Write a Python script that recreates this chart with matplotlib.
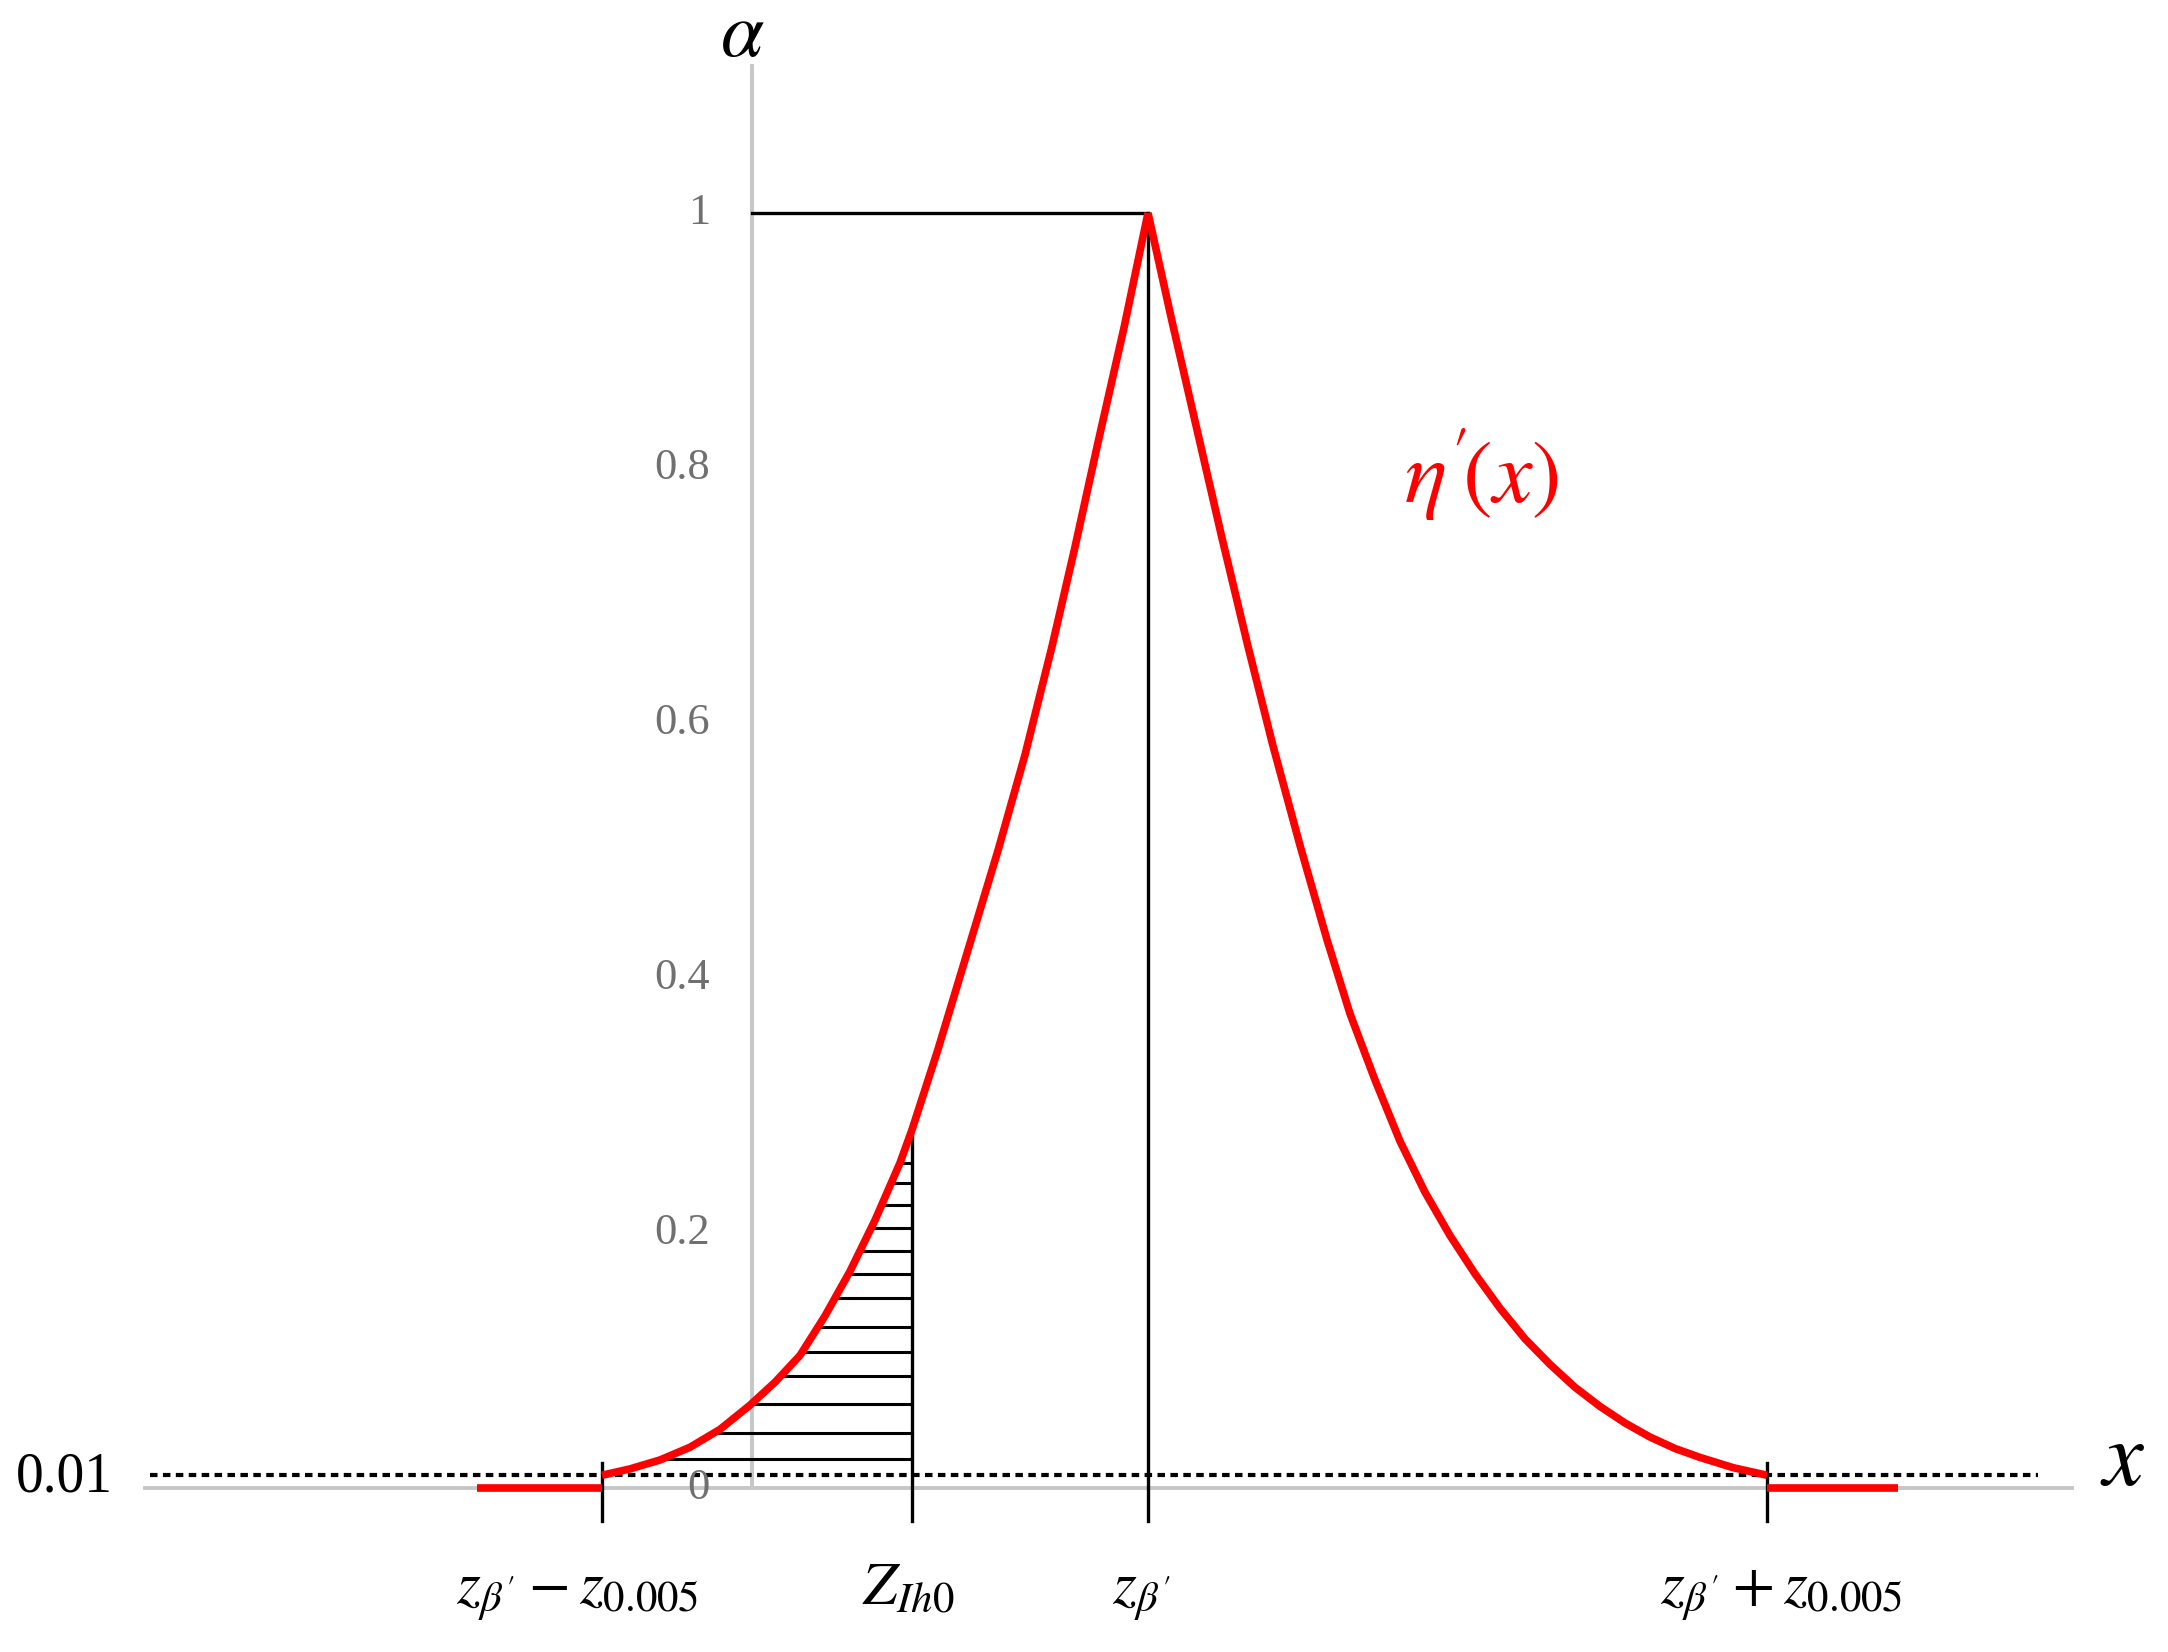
import numpy as np
import matplotlib
matplotlib.use("Agg")
import matplotlib.pyplot as plt

plt.rcParams['mathtext.fontset'] = 'stix'
plt.rcParams['font.family'] = ['Liberation Serif', 'DejaVu Serif']

# ---- data (x in arbitrary units, y = alpha) ----
left_x = [-1.50, -1.22, -0.92, -0.62, -0.32, -0.02, 0.23, 0.48, 0.73, 0.98, 1.23, 1.48,
          1.60, 1.86, 2.16, 2.46, 2.73, 3.00, 3.23, 3.46, 3.72, 3.96]
left_y = [0.010, 0.015, 0.022, 0.032, 0.046, 0.065, 0.083, 0.104, 0.135, 0.170, 0.210, 0.255,
          0.281, 0.344, 0.422, 0.500, 0.575, 0.660, 0.738, 0.820, 0.910, 1.000]
right_x = [3.96, 4.20, 4.45, 4.70, 4.96, 5.21, 5.48, 5.75, 5.98, 6.23, 6.48, 6.73, 6.98,
           7.23, 7.48, 7.73, 7.98, 8.23, 8.48, 8.73, 8.98, 9.23, 9.48, 9.81, 10.15]
right_y = [1.000, 0.915, 0.830, 0.745, 0.660, 0.582, 0.504, 0.430, 0.372, 0.320, 0.272, 0.232,
           0.198, 0.168, 0.141, 0.117, 0.097, 0.079, 0.064, 0.051, 0.040, 0.031, 0.024, 0.016, 0.010]
hatch_levels = [0.023, 0.043, 0.066, 0.088, 0.107, 0.126, 0.149, 0.168, 0.186, 0.204,
                0.222, 0.239, 0.255]
left_flat = [-2.75, -1.50]
right_flat = [10.15, 11.46]
z_low, z_ih0, z_peak, z_high = -1.50, 1.60, 3.96, 10.15
threshold = 0.01
ytick_vals = [0, 0.2, 0.4, 0.6, 0.8, 1]
ytick_labels = ['0', '0.2', '0.4', '0.6', '0.8', '1']
xlabels = [r"$z_{\beta'} - z_{0.005}$", r"$Z_{Ih0}$", r"$z_{\beta'}$", r"$z_{\beta'} + z_{0.005}$"]
xlabel_pos = [-1.75, 1.56, 3.89, 10.29]

fig = plt.figure(figsize=(21.68, 16.52), dpi=100)
ax = fig.add_axes([0, 0, 1, 1])
ax.set_xlim(-7.52, 14.16)
ax.set_ylim(-0.1286, 1.167)
ax.axis('off')

grey = '#c6c6c6'
# axes
ax.plot([-6.07, 13.20], [0, 0], color=grey, lw=2.8, zorder=1)
ax.plot([0, 0], [0, 1.115], color=grey, lw=2.8, zorder=1)
# threshold dotted line
ax.plot([-6.02, 12.86], [threshold, threshold], color='black', lw=3.0,
        linestyle=(0, (1.8, 1.3)), zorder=3)

# black guide lines
blk = dict(color='black', lw=2.4)
ax.plot([0, z_peak], [1, 1], zorder=2, **blk)
ax.plot([z_peak, z_peak], [-0.026, 1], zorder=2, **blk)
ax.plot([z_ih0, z_ih0], [-0.026, np.interp(z_ih0, left_x, left_y)], zorder=2, **blk)
ax.plot([z_low, z_low], [-0.026, 0.02], zorder=4, **blk)
ax.plot([z_high, z_high], [-0.026, 0.02], zorder=4, **blk)

# hatch lines
for lv in hatch_levels:
    xs = np.interp(lv, left_y, left_x)
    ax.plot([xs, z_ih0], [lv, lv], color='black', lw=2.2, zorder=2)

# red curve
red_kw = dict(color='red', lw=5.5, zorder=5, solid_capstyle='butt', solid_joinstyle='round')
ax.plot(left_x, left_y, **red_kw)
ax.plot(right_x, right_y, **red_kw)
ax.plot(left_flat, [0, 0], **red_kw)
ax.plot(right_flat, [0, 0], **red_kw)

# y tick labels
for v, t in zip(ytick_vals, ytick_labels):
    ax.text(-0.42, v, t, ha='right', va='center', fontsize=32, color='#707070')

ax.text(-6.88, 0.008, '0.01', ha='center', va='center', fontsize=40, color='black')
ax.text(-0.10, 1.138, r'$\alpha$', ha='center', va='center', fontsize=56)
ax.text(13.71, 0.02, r'$x$', ha='center', va='center', fontsize=66)
ax.text(7.30, 0.795, r"$\eta^{\prime}\!(x)$", ha='center', va='center', fontsize=64, color='red')

for p, t in zip(xlabel_pos, xlabels):
    ax.text(p, -0.091, t, ha='center', va='baseline', fontsize=44)

fig.savefig('out.png', dpi=100)
